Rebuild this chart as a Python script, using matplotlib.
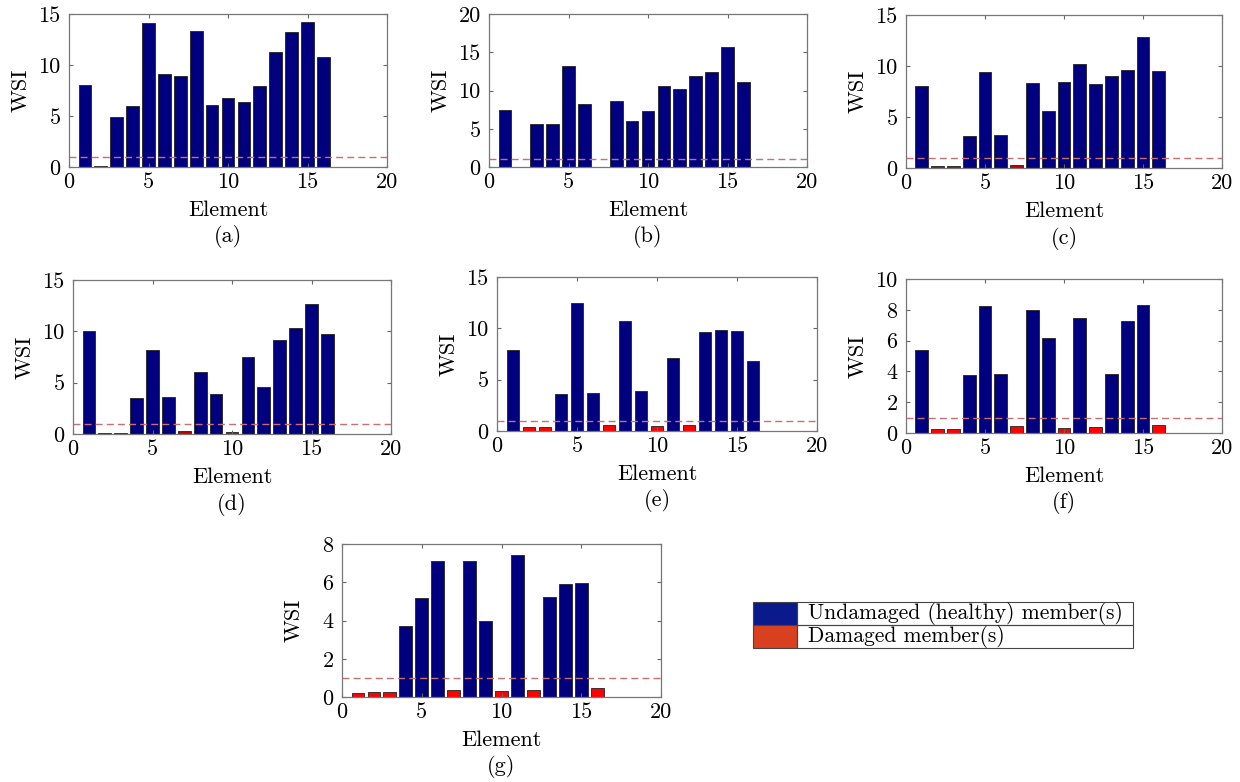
import matplotlib
matplotlib.use("Agg")
import matplotlib.pyplot as plt
from matplotlib.patches import Rectangle

plt.rcParams['font.family'] = ['cmr10', 'DejaVu Serif']
plt.rcParams['axes.unicode_minus'] = False
plt.rcParams['mathtext.fontset'] = 'cm'

elements = list(range(1, 17))

wsi_a = [8.0, 0.05, 4.88, 6.0, 14.08, 9.1, 8.97, 13.35, 6.07, 6.79, 6.4, 7.95, 11.28, 13.25, 14.24, 10.81]
wsi_b = [7.5, 0.05, 5.59, 5.59, 13.14, 8.17, 0.06, 8.69, 6.07, 7.29, 10.65, 10.17, 11.96, 12.45, 15.68, 11.14]
wsi_c = [8.05, 0.15, 0.15, 3.16, 9.46, 3.23, 0.26, 8.38, 5.58, 8.48, 10.17, 8.28, 9.06, 9.59, 12.81, 9.52]
wsi_d = [10.06, 0.13, 0.13, 3.54, 8.18, 3.6, 0.26, 6.07, 3.93, 0.23, 7.47, 4.55, 9.12, 10.29, 12.66, 9.74]
wsi_e = [7.87, 0.35, 0.35, 3.56, 12.5, 3.66, 0.55, 10.75, 3.89, 0.49, 7.09, 0.55, 9.65, 9.88, 9.72, 6.77]
wsi_f = [5.38, 0.28, 0.28, 3.75, 8.26, 3.8, 0.43, 7.96, 6.2, 0.35, 7.44, 0.39, 3.82, 7.25, 8.31, 0.5]
wsi_g = [0.21, 0.26, 0.26, 3.7, 5.19, 7.11, 0.38, 7.11, 3.98, 0.33, 7.42, 0.35, 5.24, 5.9, 5.96, 0.45]

damaged_a = [2]
damaged_b = [2, 7]
damaged_c = [2, 3, 7]
damaged_d = [2, 3, 7, 10]
damaged_e = [2, 3, 7, 10, 12]
damaged_f = [2, 3, 7, 10, 12, 16]
damaged_g = [1, 2, 3, 7, 10, 12, 16]

threshold = 1.0
captions = ['(a)', '(b)', '(c)', '(d)', '(e)', '(f)', '(g)']
ylims = [15, 20, 15, 15, 15, 10, 8]
ystep = [5, 5, 5, 5, 5, 2, 2]
legend_labels = ['Undamaged (healthy) member(s)', 'Damaged member(s)']

series = [wsi_a, wsi_b, wsi_c, wsi_d, wsi_e, wsi_f, wsi_g]
damaged = [damaged_a, damaged_b, damaged_c, damaged_d, damaged_e, damaged_f, damaged_g]

W, H = 1240, 782
fig = plt.figure(figsize=(W / 100, H / 100), dpi=100)

# pixel boxes: left, top, right, bottom
boxes = [
    (69, 14, 387, 167),
    (489, 14, 807, 167),
    (906, 15, 1222, 168),
    (73, 280, 391, 434),
    (497, 277, 817, 431),
    (906, 279, 1222, 433),
    (342, 544, 661, 697),
]

BLUE = '#00007f'
RED_DARK = '#c00000'
RED = '#ff0000'
FS = 16

for i, (vals, dmg, box) in enumerate(zip(series, damaged, boxes)):
    l, t, r, b = box
    ax = fig.add_axes([l / W, 1 - b / H, (r - l) / W, (b - t) / H])
    colors = []
    for e in elements:
        if e in dmg:
            colors.append(RED_DARK if i < 4 else RED)
        else:
            colors.append(BLUE)
    ax.bar(elements, vals, width=0.8, color=colors, edgecolor='#222222', linewidth=0.6)
    ax.axhline(threshold, color='#c87070', linestyle=(0, (5, 3)), linewidth=1.0)
    ax.set_xlim(0, 20)
    ax.set_ylim(0, ylims[i])
    ax.set_xticks(range(0, 21, 5))
    ax.set_yticks(range(0, ylims[i] + 1, ystep[i]))
    ax.tick_params(direction='in', top=True, right=True, labelsize=FS, length=3,
                   color='#666666', width=0.8)
    ax.tick_params(axis='x', pad=4)
    ax.tick_params(axis='y', pad=6)
    for sp in ax.spines.values():
        sp.set_color('#777777')
        sp.set_linewidth(0.9)
    cx = (l + r) / 2 / W
    fig.text(cx, 1 - (b + 43) / H, 'Element', ha='center', va='center', fontsize=FS)
    fig.text(cx, 1 - (b + 70) / H, captions[i], ha='center', va='center', fontsize=FS)
    fig.text((l - 48) / W, 1 - (t + b) / 2 / H, 'WSI', ha='center', va='center',
             rotation=90, fontsize=FS)

# legend drawn as a bordered table
lx0, ly0, lx1, ly1 = 753, 602, 1133, 648
lax = fig.add_axes([lx0 / W, 1 - ly1 / H, (lx1 - lx0) / W, (ly1 - ly0) / H])
lax.set_xlim(0, lx1 - lx0)
lax.set_ylim(0, ly1 - ly0)
lax.axis('off')
rowh = (ly1 - ly0) / 2
patch_w = 44
leg_colors = ['#0a1a8c', '#d84020']
for k, (lab, col) in enumerate(zip(legend_labels, leg_colors)):
    y0 = (ly1 - ly0) - (k + 1) * rowh
    lax.add_patch(Rectangle((0, y0), patch_w, rowh, facecolor=col, edgecolor='#444444',
                            linewidth=0.8, clip_on=False))
    lax.add_patch(Rectangle((patch_w, y0), (lx1 - lx0) - patch_w, rowh, facecolor='none',
                            edgecolor='#444444', linewidth=0.8, clip_on=False))
    lax.text(patch_w + 11, y0 + rowh / 2, lab, fontsize=15.5, va='center', ha='left')

fig.savefig('out.png', dpi=100)
